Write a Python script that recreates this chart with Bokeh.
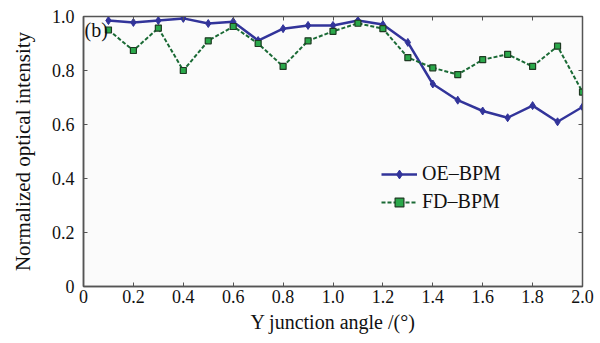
from bokeh.plotting import figure
from bokeh.models import FixedTicker, LinearAxis, Legend, LegendItem, Label, Range1d
from bokeh.embed import file_html
from bokeh.resources import INLINE

angle = [0.1, 0.2, 0.3, 0.4, 0.5, 0.6, 0.7, 0.8, 0.9, 1.0,
         1.1, 1.2, 1.3, 1.4, 1.5, 1.6, 1.7, 1.8, 1.9, 2.0]
oe_bpm = [0.985, 0.978, 0.985, 0.993, 0.974, 0.981, 0.911, 0.955, 0.967, 0.967,
          0.985, 0.97, 0.904, 0.75, 0.69, 0.65, 0.625, 0.67, 0.61, 0.665]
fd_bpm = [0.95, 0.874, 0.957, 0.80, 0.91, 0.963, 0.90, 0.815, 0.91, 0.945,
          0.975, 0.955, 0.848, 0.81, 0.785, 0.84, 0.86, 0.815, 0.89, 0.72]
x_ticks = [0, 0.2, 0.4, 0.6, 0.8, 1.0, 1.2, 1.4, 1.6, 1.8, 2.0]
x_labels = ["0", "0.2", "0.4", "0.6", "0.8", "1.0", "1.2", "1.4", "1.6", "1.8", "2.0"]
y_ticks = [0, 0.2, 0.4, 0.6, 0.8, 1.0]
y_labels = ["0", "0.2", "0.4", "0.6", "0.8", "1.0"]

FONT = "Liberation Serif"

p = figure(width=600, height=343, output_backend="svg", toolbar_location=None,
           x_range=Range1d(0, 2.0), y_range=Range1d(0, 1.0),
           min_border_left=83, min_border_right=18, min_border_top=16, min_border_bottom=57)
p.background_fill_color = "#fbfbfb"
p.border_fill_color = "white"
p.outline_line_color = "#555555"
p.outline_line_width = 1.5
p.grid.visible = False

for ax, ticks, labels in ((p.xaxis[0], x_ticks, x_labels), (p.yaxis[0], y_ticks, y_labels)):
    ax.ticker = FixedTicker(ticks=ticks)
    ax.major_label_overrides = {t: l for t, l in zip(ticks, labels)}
    ax.major_label_text_font = FONT
    ax.major_label_text_font_size = "18px"
    ax.major_label_text_color = "#111111"
    ax.axis_label_text_font = FONT
    ax.axis_label_text_font_size = "20px"
    ax.axis_label_text_font_style = "normal"
    ax.axis_label_text_color = "#111111"
    ax.major_tick_in = 4
    ax.major_tick_out = 0
    ax.minor_tick_line_color = None
    ax.axis_line_color = "#555555"
    ax.axis_line_width = 1.5
    ax.major_tick_line_color = "#555555"

p.xaxis[0].major_label_standoff = 3
p.yaxis[0].major_label_standoff = 9
p.xaxis[0].axis_label = "Y junction angle /(°)"
p.xaxis[0].axis_label_standoff = 5
p.yaxis[0].axis_label = "Normalized optical intensity"
p.yaxis[0].axis_label_text_font_size = "21px"
p.yaxis[0].axis_label_standoff = 14

top = LinearAxis(ticker=FixedTicker(ticks=x_ticks), major_label_text_color=None,
                 major_tick_in=4, major_tick_out=0, minor_tick_line_color=None,
                 axis_line_color="#555555", major_tick_line_color="#555555")
right = LinearAxis(ticker=FixedTicker(ticks=y_ticks), major_label_text_color=None,
                   major_tick_in=4, major_tick_out=0, minor_tick_line_color=None,
                   axis_line_color="#555555", major_tick_line_color="#555555")
top.major_label_text_font_size = "0px"
right.major_label_text_font_size = "0px"
top.major_label_standoff = 0
right.major_label_standoff = 0
p.add_layout(top, "above")
p.add_layout(right, "right")

l1 = p.line(angle, oe_bpm, line_color="#32349a", line_width=2.5)
m1 = p.scatter(angle, oe_bpm, marker="diamond", size=8, fill_color="#32349a", line_color="#32349a")
l2 = p.line(angle, fd_bpm, line_color="#1a6a35", line_width=2, line_dash="4 2")
m2 = p.scatter(angle, fd_bpm, marker="square", size=6, fill_color="#2aa84a", line_color="#1e3a22", line_width=1.2)

legend = Legend(items=[LegendItem(label="OE\u2013BPM", renderers=[l1, m1]),
                       LegendItem(label="FD\u2013BPM", renderers=[l2, m2])],
                location=(298, 73), background_fill_alpha=0, border_line_color=None,
                label_text_font=FONT, label_text_font_size="20px", label_text_color="#111111",
                glyph_width=36, glyph_height=22, label_height=22, spacing=5, padding=2,
                label_standoff=5)
p.add_layout(legend, "center")

p.add_layout(Label(x=0.0, y=1.0, x_offset=1, y_offset=-24, text="(b)", text_font=FONT,
                   text_font_size="20px", text_color="#111111"))

open("out.html", "w").write(file_html(p, INLINE))
